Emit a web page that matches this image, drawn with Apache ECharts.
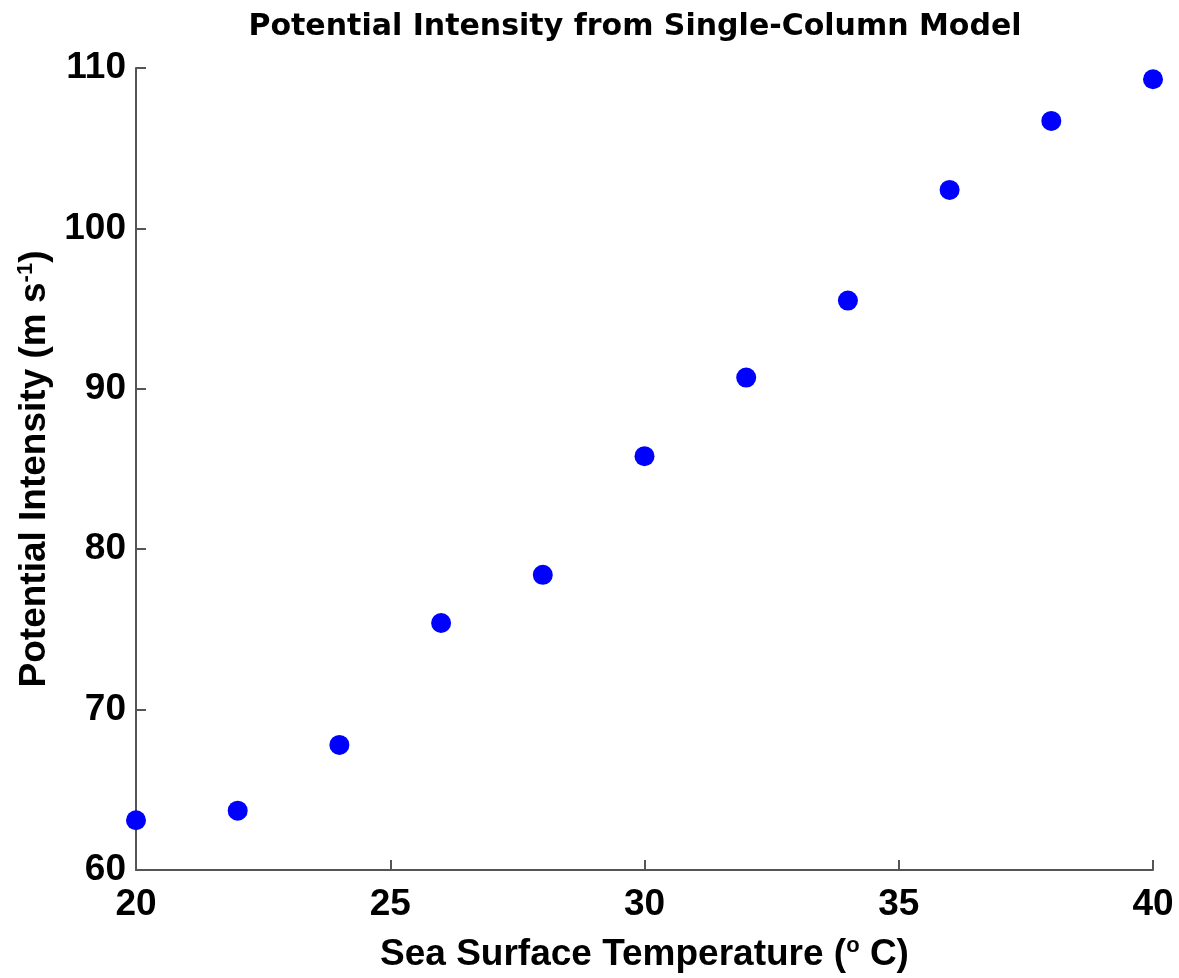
<!DOCTYPE html>
<html><head><meta charset="utf-8">
<script src="https://cdn.jsdelivr.net/npm/echarts@6/dist/echarts.min.js"></script>
<style>html,body{margin:0;padding:0;background:#fff}#c{width:1179px;height:978px}</style>
</head><body><div id="c"></div>
<script>
const sst = [20, 22, 24, 26, 28, 30, 32, 34, 36, 38, 40];
const potentialIntensity = [63.1, 63.7, 67.8, 75.4, 78.4, 85.8, 90.7, 95.5, 102.4, 106.7, 109.3];
const xTicks = [20, 25, 30, 35, 40];
const yTicks = [60, 70, 80, 90, 100, 110];

const FONT = '"Liberation Sans", Arial, sans-serif';
const chart = echarts.init(document.getElementById('c'), null, {renderer: 'canvas'});
const axisCommon = {
  axisLine: {show: true, lineStyle: {color: '#555', width: 2}},
  axisTick: {show: true, inside: true, length: 10, lineStyle: {color: '#555', width: 2}},
  splitLine: {show: false},
  axisLabel: {color: '#000', fontFamily: FONT, fontWeight: 'bold', fontSize: 37}
};
const nameRich = {
  t: {fontFamily: FONT, fontWeight: 'bold', fontSize: 37, color: '#000'},
  s: {fontFamily: FONT, fontWeight: 'bold', fontSize: 22, color: '#000', verticalAlign: 'top', padding: [0, 0, 17, 0]}
};
chart.setOption({
  animation: false,
  backgroundColor: '#fff',
  title: {
    text: 'Potential Intensity from Single-Column Model',
    left: 630, top: 7, textAlign: 'center',
    textStyle: {color: '#000', fontFamily: '"DejaVu Sans", sans-serif', fontWeight: 'bold', fontSize: 30}
  },
  grid: {left: 136, right: 26, top: 68, bottom: 105, containLabel: false},
  xAxis: Object.assign({}, axisCommon, {
    type: 'value', min: xTicks[0], max: xTicks[xTicks.length - 1], interval: 5,
    axisLabel: Object.assign({}, axisCommon.axisLabel, {margin: 16}),
    name: '{t|Sea Surface Temperature (}{s|o}{t| C)}',
    nameLocation: 'middle', nameGap: 65,
    nameTextStyle: {rich: nameRich}
  }),
  yAxis: Object.assign({}, axisCommon, {
    type: 'value', min: yTicks[0], max: yTicks[yTicks.length - 1], interval: 10,
    axisLabel: Object.assign({}, axisCommon.axisLabel, {margin: 10}),
    name: '{t|Potential Intensity (m s}{s|-1}{t|)}',
    nameLocation: 'middle', nameGap: 71, nameRotate: 90,
    nameTextStyle: {rich: nameRich}
  }),
  series: [{
    type: 'scatter',
    data: sst.map((x, i) => [x, potentialIntensity[i]]),
    symbol: 'circle', symbolSize: 20,
    itemStyle: {color: '#0000ff', opacity: 1}
  }]
});
</script></body></html>
